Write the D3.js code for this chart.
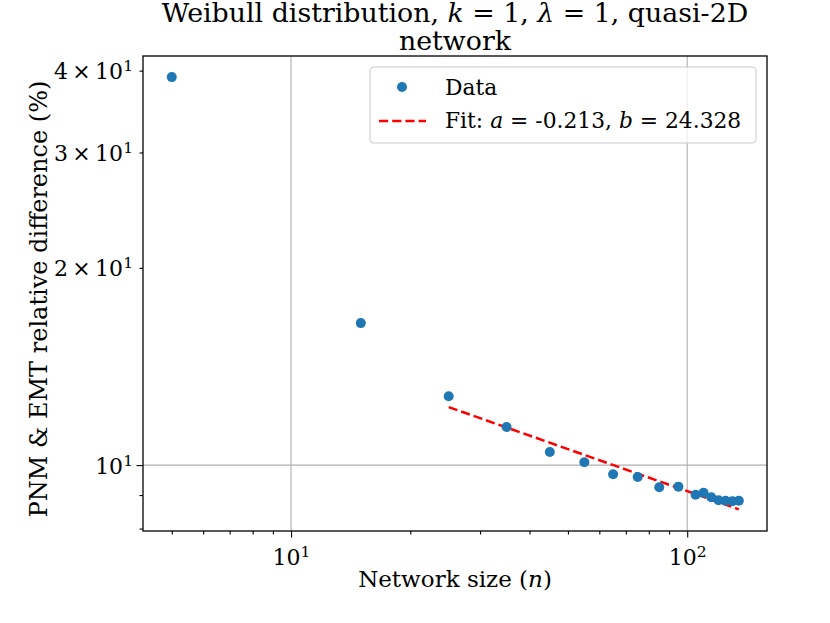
<!DOCTYPE html>
<html>
<head>
<meta charset="utf-8">
<script src="https://cdn.jsdelivr.net/npm/d3@7"></script>
<style>
  body { margin: 0; background: #fff; }
  text { font-family: "DejaVu Serif", serif; fill: #000; }
</style>
</head>
<body>
<div id="my_dataviz"></div>
<script>
// données
const sizes = [5, 15, 25, 35, 45, 55, 65, 75, 85, 95, 105, 110, 115, 120, 125, 130, 135];
const diffs = [39.1, 16.47, 12.74, 11.43, 10.47, 10.1, 9.68, 9.59, 9.25, 9.27, 9.01, 9.07, 8.93, 8.84, 8.82, 8.81, 8.82];
// droite d'ajustement (extrémités)
const fitSizes = [25, 135];
const fitDiffs = [12.26, 8.56];
const xMajor = [10, 100];
const xMinor = [5, 6, 7, 8, 9, 20, 30, 40, 50, 60, 70, 80, 90];
const yMajor = [10];
const yMinor = [8, 9, 20, 30, 40];
const yLabeledMinor = [20, 30, 40];

const W = 830, H = 623;
const margin = {top: 56, right: 63, bottom: 92, left: 143},
    width = W - margin.left - margin.right,
    height = H - margin.top - margin.bottom;

const x = d3.scaleLog().domain([4.23, 159]).range([0, width]);
const y = d3.scaleLog().domain([7.932, 42.11]).range([height, 0]);

const svg = d3.select('#my_dataviz').append("svg")
    .attr("width", W)
    .attr("height", H);

const g = svg.append("g")
    .attr("transform", "translate(" + margin.left + "," + margin.top + ")");

// grille
g.selectAll(".gx").data(xMajor).enter().append("line")
    .attr("x1", d => x(d)).attr("x2", d => x(d))
    .attr("y1", 0).attr("y2", height)
    .attr("stroke", "#b0b0b0").attr("stroke-width", 1.1);
g.selectAll(".gy").data(yMajor).enter().append("line")
    .attr("x1", 0).attr("x2", width)
    .attr("y1", d => y(d)).attr("y2", d => y(d))
    .attr("stroke", "#b0b0b0").attr("stroke-width", 1.1);

// ligne d'ajustement
const line = d3.line().x((d, i) => x(fitSizes[i])).y(d => y(d));
g.append("path")
    .datum(fitDiffs)
    .attr("d", line)
    .attr("fill", "none")
    .attr("stroke", "#ff0000")
    .attr("stroke-width", 2.5)
    .attr("stroke-dasharray", "9.2,4");

// points
g.selectAll(".dot").data(sizes).enter().append("circle")
    .attr("cx", d => x(d))
    .attr("cy", (d, i) => y(diffs[i]))
    .attr("r", 5)
    .attr("fill", "#1f77b4");

// axes : étiquettes avec exposant
function sup(sel, base, expo) {
  sel.text(null);
  sel.append("tspan").text(base);
  sel.append("tspan").attr("font-size", "15.5px").attr("dy", "-8").text(expo);
}

const xAx = g.append("g")
    .attr("transform", "translate(0," + height + ")")
    .call(d3.axisBottom(x).tickValues(xMajor).tickSize(6.5).tickPadding(4).tickFormat(""));
xAx.selectAll(".tick text")
    .attr("font-size", "22px")
    .attr("dy", "1.05em")
    .each(function(d) { sup(d3.select(this), "10", Math.round(Math.log10(d))); });
g.append("g")
    .attr("transform", "translate(0," + height + ")")
    .call(d3.axisBottom(x).tickValues(xMinor).tickSize(3.5).tickFormat(""));

const yAx = g.append("g")
    .call(d3.axisLeft(y).tickValues(yMajor.concat(yLabeledMinor)).tickSize(0).tickPadding(10).tickFormat(""));
yAx.selectAll(".tick text")
    .attr("font-size", "22px")
    .attr("dy", "0.36em")
    .each(function(d) {
      const m = Math.round(d / 10);
      sup(d3.select(this), m === 1 ? "10" : m + "\u2009\u00d7\u200910", 1);
    });
g.append("g")
    .call(d3.axisLeft(y).tickValues(yMajor).tickSize(6.5).tickFormat(""));
g.append("g")
    .call(d3.axisLeft(y).tickValues(yMinor).tickSize(3.5).tickFormat(""));

g.selectAll(".domain").remove();
g.selectAll(".tick line").attr("stroke", "#000").attr("stroke-width", 1.1);

// cadre
g.append("rect")
    .attr("width", width).attr("height", height)
    .attr("fill", "none").attr("stroke", "#000").attr("stroke-width", 1.3);

// titres
const title = svg.append("text")
    .attr("x", margin.left + width / 2)
    .attr("y", 22)
    .attr("text-anchor", "middle")
    .attr("font-size", "26.8px");
title.append("tspan").text("Weibull distribution, ");
title.append("tspan").attr("font-style", "italic").text("k");
title.append("tspan").text(" = 1, ");
title.append("tspan").attr("font-style", "italic").text("\u03bb");
title.append("tspan").text(" = 1, quasi-2D");
svg.append("text")
    .attr("x", margin.left + width / 2)
    .attr("y", 50)
    .attr("text-anchor", "middle")
    .attr("font-size", "26.8px")
    .text("network");

const xl = svg.append("text")
    .attr("x", margin.left + width / 2)
    .attr("y", 587)
    .attr("text-anchor", "middle")
    .attr("font-size", "23px");
xl.append("tspan").text("Network size (");
xl.append("tspan").attr("font-style", "italic").text("n");
xl.append("tspan").text(")");

svg.append("text")
    .attr("transform", "translate(47," + 299 + ") rotate(-90)")
    .attr("text-anchor", "middle")
    .attr("font-size", "24px")
    .text("PNM & EMT relative difference (%)");

// légende
const leg = svg.append("g").attr("transform", "translate(370,67)");
leg.append("rect")
    .attr("width", 386).attr("height", 76).attr("rx", 4)
    .attr("fill", "#fff").attr("fill-opacity", 0.8)
    .attr("stroke", "#cccccc").attr("stroke-width", 1.1);
leg.append("circle").attr("cx", 32).attr("cy", 20).attr("r", 5).attr("fill", "#1f77b4");
leg.append("text").attr("x", 75).attr("y", 28).attr("font-size", "21.8px").text("Data");
leg.append("line")
    .attr("x1", 9).attr("x2", 56).attr("y1", 54).attr("y2", 54)
    .attr("stroke", "#ff0000").attr("stroke-width", 2.5).attr("stroke-dasharray", "9.2,4");
const lt = leg.append("text").attr("x", 75).attr("y", 61).attr("font-size", "21.8px");
lt.append("tspan").text("Fit: ");
lt.append("tspan").attr("font-style", "italic").text("a");
lt.append("tspan").text(" = -0.213, ");
lt.append("tspan").attr("font-style", "italic").text("b");
lt.append("tspan").text(" = 24.328");
</script>
</body>
</html>
